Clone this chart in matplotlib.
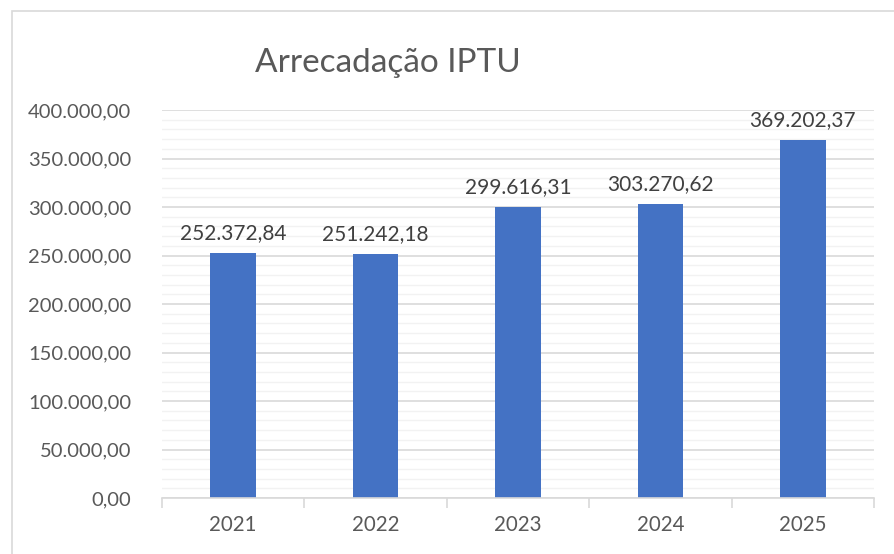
import numpy as np
import matplotlib.pyplot as plt
from matplotlib.patches import Rectangle
from matplotlib.ticker import MultipleLocator, FuncFormatter

# data
anos = ["2021", "2022", "2023", "2024", "2025"]
valores = [252372.84, 251242.18, 299616.31, 303270.62, 369202.37]


def br(v, pos=None):
    s = f"{v:,.2f}"
    return s.replace(",", "X").replace(".", ",").replace("X", ".")


plt.rcParams["font.family"] = ["Lato", "DejaVu Sans"]

fig = plt.figure(figsize=(8.95, 5.54), dpi=100)
ax = fig.add_axes([162 / 895, 1 - 498 / 554, 712 / 895, 388 / 554])

# chart border (cropped on right/bottom)
fig.patches.append(Rectangle((12 / 895, -0.1), 1.2, 1 - 11 / 554 + 0.1,
                             transform=fig.transFigure, fill=False,
                             edgecolor="#d9d9d9", linewidth=1.2))

x = np.arange(len(anos))
ax.bar(x, valores, width=0.32, color="#4472c4", zorder=3)

for xi, v in zip(x, valores):
    ax.text(xi, v + 10500, br(v), ha="center", va="bottom",
            fontsize=15, color="#404040")

ax.set_xlim(-0.5, len(anos) - 0.5)
ax.set_ylim(0, 400000)
ax.yaxis.set_major_locator(MultipleLocator(50000))
ax.yaxis.set_minor_locator(MultipleLocator(10000))
ax.yaxis.set_major_formatter(FuncFormatter(br))
ax.grid(axis="y", which="major", color="#d9d9d9", linewidth=1.2, zorder=0)
ax.grid(axis="y", which="minor", color="#f2f2f2", linewidth=1.0, zorder=0)

ax.set_xticks(x)
ax.set_xticklabels(anos)
ax.set_xticks(np.arange(-0.5, len(anos)), minor=True)
ax.tick_params(axis="x", which="major", length=0, pad=12,
               labelsize=14.8, labelcolor="#595959")
ax.tick_params(axis="x", which="minor", length=7, color="#d9d9d9", width=1.2)
ax.tick_params(axis="y", which="both", length=0, pad=22,
               labelsize=14.5, labelcolor="#595959")

for s in ["top", "right", "left"]:
    ax.spines[s].set_visible(False)
ax.spines["bottom"].set_color("#d9d9d9")
ax.spines["bottom"].set_linewidth(1.2)
ax.spines["bottom"].set_zorder(4)

fig.text(388 / 895, 1 - 63 / 554, "Arrecadação IPTU", ha="center", va="center",
         fontsize=24, color="#595959")

fig.savefig("out.png", dpi=100)
